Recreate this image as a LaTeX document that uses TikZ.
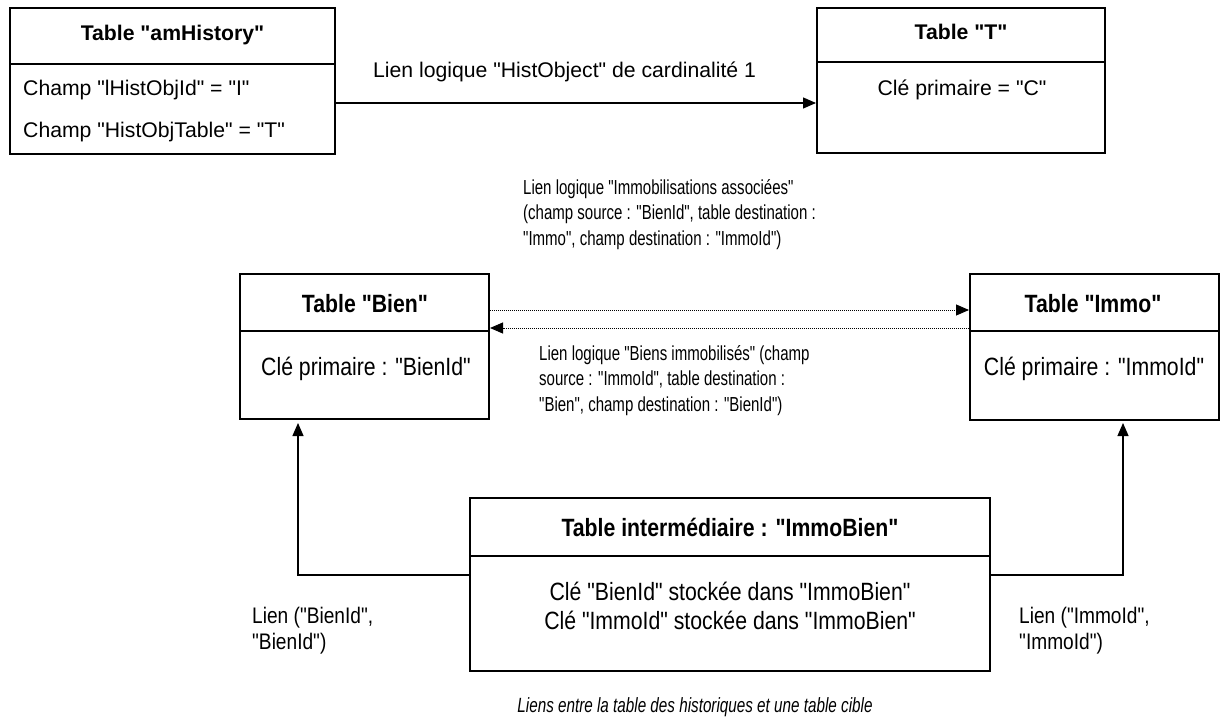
\documentclass[tikz,border=0pt]{standalone}
\usepackage{fontspec}
\newfontfamily\rf{Liberation Sans}
\newfontfamily\nf[FakeStretch=0.85]{Liberation Sans}
\newfontfamily\lf[FakeStretch=0.74]{Liberation Sans}
\usetikzlibrary{arrows.meta}
\begin{document}
\begin{tikzpicture}[x=1pt,y=-1pt,
  box/.style={draw,line width=2pt,rectangle,inner sep=0pt},
  divline/.style={line width=2pt},
  conn/.style={line width=1.2pt},
  tipend/.style={-{Triangle[length=13pt,width=11pt]}},
  dotline/.style={line width=1pt,dash pattern=on 1pt off 1pt},
  ttop/.style={inner sep=0pt,font=\rf\fontsize{21.2}{25}\selectfont},
  ttopb/.style={inner sep=0pt,font=\rf\fontsize{21.2}{25}\selectfont\bfseries},
  tbox/.style={inner sep=0pt,font=\nf\fontsize{25}{29}\selectfont},
  tboxb/.style={inner sep=0pt,font=\nf\fontsize{25}{29}\selectfont\bfseries},
  tlab/.style={inner sep=0pt,anchor=base west,font=\lf\fontsize{20.3}{24}\selectfont},
  tlien/.style={inner sep=0pt,anchor=base west,font=\nf\fontsize{22.5}{26}\selectfont},
  tcap/.style={inner sep=0pt,anchor=base,font=\lf\fontsize{20.6}{24}\selectfont\itshape}]
\useasboundingbox (0,0) rectangle (1222,719);

% boxes
\node[box,minimum width=325pt,minimum height=146pt] (hist) at (172.5,81) {};
\node[box,minimum width=288pt,minimum height=145pt] (T) at (961,80.5) {};
\node[box,minimum width=249pt,minimum height=145pt] (bien) at (364.5,346.5) {};
\node[box,minimum width=249pt,minimum height=146pt] (immo) at (1094.5,347) {};
\node[box,minimum width=520pt,minimum height=173pt] (ib) at (730,584.5) {};

% dividers
\draw[divline] (hist.west |- 0,64) -- (hist.east |- 0,64);
\draw[divline] (T.west |- 0,62) -- (T.east |- 0,62);
\draw[divline] (bien.west |- 0,331) -- (bien.east |- 0,331);
\draw[divline] (immo.west |- 0,331) -- (immo.east |- 0,331);
\draw[divline] (ib.west |- 0,556) -- (ib.east |- 0,556);

% texts in boxes
\node[ttopb,anchor=base] (histT) at (172.5,40.7) {Table "amHistory"};
\node[ttop,anchor=base west] (histA) at (23,95.7) {Champ "lHistObjId" = "I"};
\node[ttop,anchor=base west] (histB) at (23,137.7) {Champ "HistObjTable" = "T"};
\node[ttopb,anchor=base] (TT) at (961,39.7) {Table "T"};
\node[ttop,anchor=base] (TA) at (962,95.7) {Clé primaire = "C"};

\node[tboxb,anchor=base] (bienT) at (365,312) {Table "Bien"};
\node[tbox,anchor=base] (bienA) at (366,375) {Clé primaire : "BienId"};
\node[tboxb,anchor=base] (immoT) at (1093,312) {Table "Immo"};
\node[tbox,anchor=base] (immoA) at (1094,375) {Clé primaire : "ImmoId"};

\node[tboxb,anchor=base] (ibT) at (730,536) {Table intermédiaire : "ImmoBien"};
\node[tbox,anchor=base] (ibA) at (730,600) {Clé "BienId" stockée dans "ImmoBien"};
\node[tbox,anchor=base] (ibB) at (730,629) {Clé "ImmoId" stockée dans "ImmoBien"};

% connectors
\draw[conn,tipend] ([yshift=-22pt]hist.east) -- ([yshift=-22pt]hist.east -| T.west);
\node[ttop,anchor=base west] (histlab) at (373,77.7) {Lien logique "HistObject" de cardinalité 1};

\draw[dotline,tipend] ([yshift=36.5pt]bien.east) -- ([yshift=36.5pt]bien.east -| immo.west);
\draw[dotline,tipend] ([yshift=18.5pt]bien.east -| immo.west) -- ([yshift=18.5pt]bien.east);

\coordinate (bienIn) at (298,423);
\coordinate (immoIn) at (1123,423);
\draw[conn,tipend] ([yshift=9.5pt]ib.west) -| (bienIn);
\draw[conn,tipend] ([yshift=9.5pt]ib.east) -| (immoIn);

% labels
\node[tlab] (la1) at (523,195) {Lien logique "Immobilisations associées"};
\node[tlab] (la2) at (523,220) {(champ source : "BienId", table destination :};
\node[tlab] (la3) at (523,245) {"Immo", champ destination : "ImmoId")};

\node[tlab] (lb1) at (539,360) {Lien logique "Biens immobilisés" (champ};
\node[tlab] (lb2) at (539,385.5) {source : "ImmoId", table destination :};
\node[tlab] (lb3) at (539,411) {"Bien", champ destination : "BienId")};

\node[tlien] (lc1) at (252,623) {Lien ("BienId",};
\node[tlien] (lc2) at (252,649) {"BienId")};
\node[tlien] (ld1) at (1019,623) {Lien ("ImmoId",};
\node[tlien] (ld2) at (1019,649) {"ImmoId")};

\node[tcap] (cap) at (695,712) {Liens entre la table des historiques et une table cible};
\end{tikzpicture}
\end{document}
